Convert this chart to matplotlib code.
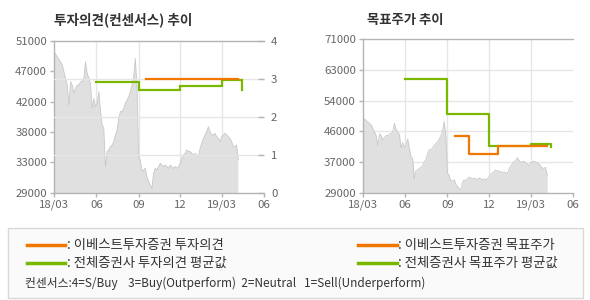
import numpy as np
import pandas as pd
import matplotlib
matplotlib.use('Agg')
import matplotlib.pyplot as plt
from matplotlib.lines import Line2D
from matplotlib.patches import Rectangle

plt.rcParams['font.family'] = ['Noto Sans CJK KR', 'DejaVu Sans']

# --- data ---
price = [49450, 49110, 48730, 48340, 48000, 47520, 46550, 45580, 44620, 41720,
         45100, 44620, 43410, 44130, 44620, 44620, 45100, 45100, 45580, 48000,
         46310, 45580, 44860, 41230, 42680, 41470, 41960, 43650, 40990, 38820,
         38330, 32770, 34950, 35190, 35670, 35910, 36400, 37360, 38090, 39780,
         40750, 40750, 41230, 41960, 42440, 42920, 43650, 44620, 45830, 48490,
         44380, 34220, 33740, 32050, 32290, 32530, 31320, 30600, 30110, 29630,
         31800, 32530, 32290, 32770, 33250, 33010, 32770, 33010, 32770, 32530,
         33010, 32770, 32530, 32770, 32530, 32770, 33250, 33980, 34460, 34710,
         35190, 34950, 34950, 34710, 34460, 34710, 34460, 34220, 35430, 36160,
         36880, 37360, 37850, 38570, 37850, 37360, 37360, 37610, 37120, 36880,
         36400, 37120, 37360, 37610, 37360, 37120, 36880, 36400, 35670, 35670,
         35910, 33740]
price_start, price_end = '2018-03-01', '2019-04-06'

# investment opinion (consensus score, right axis of left chart)
op_firm_dates = ['2018-09-18', '2019-04-05']
op_firm = [3.0, 3.0]
op_avg_dates = ['2018-06-01', '2018-09-01', '2018-12-01', '2019-03-01', '2019-04-14']
op_avg = [2.93, 2.70, 2.81, 2.98, 2.70]

# target price
tp_firm_dates = ['2018-09-18', '2018-10-18', '2018-12-21', '2019-04-06']
tp_firm = [44600, 39700, 41700, 41700]
tp_avg_dates = ['2018-06-01', '2018-09-01', '2018-12-01', '2019-03-01', '2019-04-15']
tp_avg = [60000, 50400, 41900, 42400, 41500]

x_ticks = ['2018-03-01', '2018-06-01', '2018-09-01', '2018-12-01', '2019-03-01', '2019-06-01']
x_labels = ['18/03', '06', '09', '12', '19/03', '06']
left_ylabels = ['29000', '33000', '38000', '42000', '47000', '51000']
right_ylabels = ['29000', '37000', '46000', '54000', '63000', '71000']
op_ticks = [0, 1, 2, 3, 4]

ORANGE = '#f07800'
GREEN = '#7ab800'
GRID = '#e6e6e6'
SPINE = '#b4b4b4'
TXT = '#666666'
FS = 8.2

dates = pd.date_range(price_start, price_end, periods=len(price))
xt = pd.to_datetime(x_ticks)

fig = plt.figure(figsize=(5.9, 3.0), dpi=100)
ax1 = fig.add_axes([0.0915, 0.358, 0.356, 0.505])
ax2 = fig.add_axes([0.615, 0.358, 0.356, 0.511])


def style(ax):
    ax.set_xlim(xt[0], xt[-1])
    ax.set_xticks(xt)
    ax.set_xticklabels(x_labels)
    for s in ['left', 'bottom', 'top']:
        ax.spines[s].set_color(SPINE)
        ax.spines[s].set_linewidth(1)
    ax.spines['right'].set_visible(False)
    ax.tick_params(axis='both', colors=SPINE, labelcolor=TXT, labelsize=FS,
                   length=3, width=1, pad=2)
    for t in xt[1:-1]:
        ax.axvline(t, color=GRID, lw=1, zorder=0)


def draw_price(ax, top):
    ax.fill_between(dates, 0, price, color='#e0e0e0', lw=0, zorder=1)
    ax.plot(dates, price, color='#c8c8c8', lw=0.6, zorder=2)
    ax.set_ylim(29000, top)


# left chart: opinion
draw_price(ax1, 51000)
style(ax1)
ax1.set_yticks(np.linspace(29000, 51000, len(left_ylabels)))
ax1.set_yticklabels(left_ylabels)
ax1b = ax1.twinx()
ax1b.set_ylim(0, 4)
ax1b.set_yticks(op_ticks)
for s in ax1b.spines.values():
    s.set_visible(False)
ax1b.tick_params(axis='y', colors=SPINE, labelcolor=TXT, labelsize=FS,
                 direction='in', length=4, width=1, pad=5)
for v in op_ticks[1:-1]:
    ax1b.axhline(v, color=GRID, lw=1, zorder=0)
ax1b.plot(pd.to_datetime(op_avg_dates), op_avg, color=GREEN, lw=1.6,
          drawstyle='steps-post', solid_joinstyle='miter')
ax1b.plot(pd.to_datetime(op_firm_dates), op_firm, color=ORANGE, lw=1.6)
ax1b.set_xlim(xt[0], xt[-1])
ax1.text(0.0, 1.14, '투자의견(컨센서스) 추이', transform=ax1.transAxes,
         fontsize=9.8, fontweight='bold', color='#333333', va='center')

# right chart: target price
draw_price(ax2, 71000)
style(ax2)
ax2.set_yticks(np.linspace(29000, 71000, len(right_ylabels)))
ax2.set_yticklabels(right_ylabels)
for v in np.linspace(29000, 71000, len(right_ylabels))[1:-1]:
    ax2.axhline(v, color=GRID, lw=1, zorder=0)
ax2.plot(pd.to_datetime(tp_avg_dates), tp_avg, color=GREEN, lw=1.6,
         drawstyle='steps-post', zorder=3)
ax2.plot(pd.to_datetime(tp_firm_dates), tp_firm, color=ORANGE, lw=1.6,
         drawstyle='steps-post', zorder=4)
ax2.text(0.02, 1.125, '목표주가 추이', transform=ax2.transAxes,
         fontsize=9.6, fontweight='bold', color='#333333', va='center')

# legend box
fig.add_artist(Rectangle((0.014, 0.008), 0.974, 0.232, transform=fig.transFigure,
                         facecolor='#fafafa', edgecolor='#d8d8d8', lw=1))
handles = [Line2D([], [], color=ORANGE, lw=2.5), Line2D([], [], color=GREEN, lw=2.5),
           Line2D([], [], color=ORANGE, lw=2.5), Line2D([], [], color=GREEN, lw=2.5)]
labels = [': 이베스트투자증권 투자의견', ': 전체증권사 투자의견 평균값',
          ': 이베스트투자증권 목표주가', ': 전체증권사 목표주가 평균값']
fig.legend(handles, labels, ncol=2, loc='upper left', bbox_to_anchor=(0.034, 0.228),
           frameon=False, fontsize=9.6, handlelength=2.9, handletextpad=0.1,
           columnspacing=9.9, labelspacing=0.3, borderpad=0, labelcolor='#333333')
fig.text(0.042, 0.055, '컨센서스:4=S/Buy    3=Buy(Outperform)  2=Neutral   1=Sell(Underperform)',
         fontsize=8.5, color='#333333', va='center')

fig.savefig('out.png', dpi=100)
